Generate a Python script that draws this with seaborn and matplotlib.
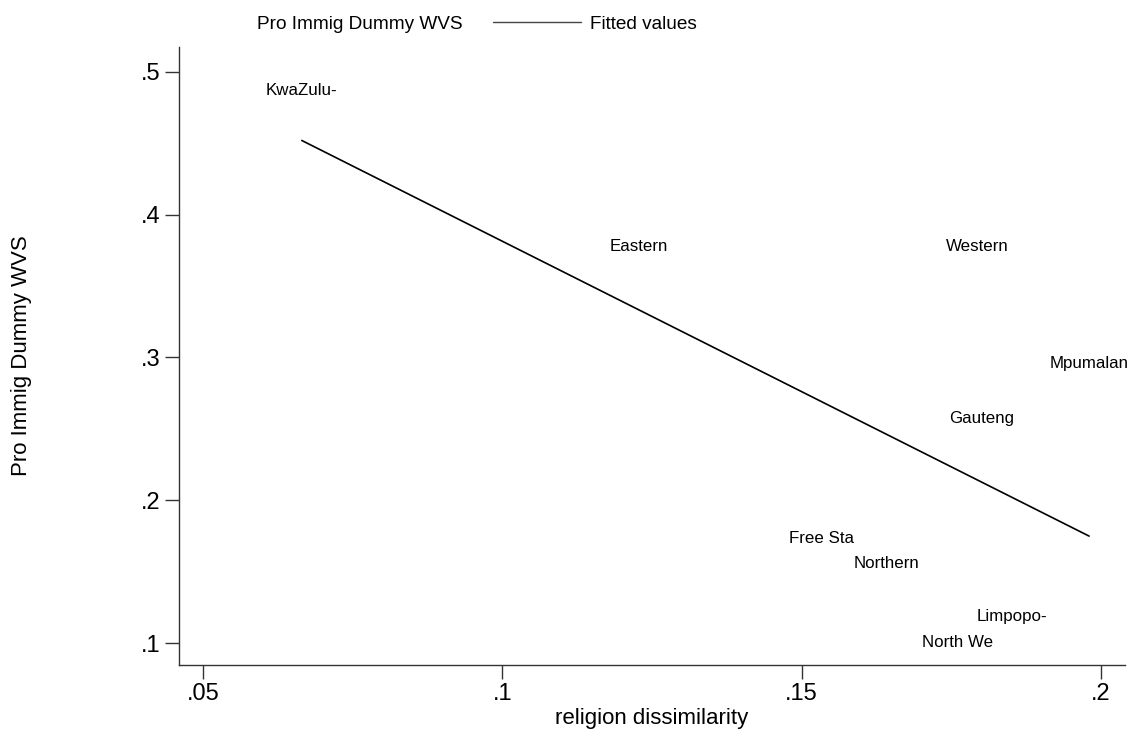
import numpy as np
import pandas as pd
import matplotlib
matplotlib.use("Agg")
import matplotlib.pyplot as plt
import matplotlib.transforms as mtransforms
from matplotlib.lines import Line2D
import seaborn as sns

# province labels (Stata truncates them to 8 chars)
regions = ["KwaZulu-", "Eastern", "Western", "Gauteng", "Mpumalan",
           "Free Sta", "Northern", "Limpopo-", "North We"]
# religion dissimilarity (x) and pro-immigration dummy share (y)
relig_dissim = [0.0665, 0.1228, 0.1793, 0.1800, 0.1980, 0.1533, 0.1641, 0.1851, 0.1760]
pro_immig = [0.485, 0.376, 0.376, 0.2555, 0.294, 0.171, 0.1535, 0.1166, 0.0986]

x_ticks = [0.05, 0.1, 0.15, 0.2]
x_ticklabels = [".05", ".1", ".15", ".2"]
y_ticks = [0.1, 0.2, 0.3, 0.4, 0.5]
y_ticklabels = [".1", ".2", ".3", ".4", ".5"]

df = pd.DataFrame({"region": regions, "x": relig_dissim, "y": pro_immig})

sns.set_style("ticks")
plt.rcParams["font.family"] = ["Liberation Sans", "DejaVu Sans"]
plt.rcParams["text.color"] = "black"
plt.rcParams["axes.labelcolor"] = "black"

fig = plt.figure(figsize=(11.36, 7.35), dpi=100)
ax = fig.add_axes([179 / 1136, 70 / 735, 946 / 1136, 618 / 735])

# fitted values line (OLS over the data range)
sns.regplot(data=df, x="x", y="y", scatter=False, ci=None, truncate=True,
            line_kws=dict(color="black", lw=1.2), ax=ax)

# marker labels only, no symbols
lift = mtransforms.offset_copy(ax.transData, fig=fig, x=0, y=2, units="points")
for _, r in df.iterrows():
    ax.text(r["x"], r["y"], r["region"], ha="center", va="center",
            fontsize=12.2, color="black", transform=lift)

ax.set_xlim(0.04599, 0.2040)
ax.set_ylim(0.0846, 0.5175)
ax.set_xticks(x_ticks)
ax.set_xticklabels(x_ticklabels)
ax.set_yticks(y_ticks)
ax.set_yticklabels(y_ticklabels)
ax.tick_params(axis="both", labelsize=17, length=10, width=1, color="#333333",
               pad=3, labelcolor="black")

sns.despine(ax=ax)
for s in ["left", "bottom"]:
    ax.spines[s].set_color("#333333")
    ax.spines[s].set_linewidth(1)

ax.set_xlabel("religion dissimilarity", fontsize=16)
ax.set_ylabel("Pro Immig Dummy WVS", fontsize=16)
ax.xaxis.set_label_coords(0.5, -0.07)
ax.yaxis.set_label_coords(-0.155, 0.5)

handles = [Line2D([], [], linestyle="none"),
           Line2D([], [], color="#444444", lw=1)]
fig.legend(handles, ["Pro Immig Dummy WVS", "Fitted values"], ncol=2,
           loc="center left", bbox_to_anchor=(160 / 1136, 1 - 24 / 735),
           frameon=False, fontsize=13.7, handlelength=4.6, handletextpad=0.5,
           columnspacing=1.6, borderpad=0, borderaxespad=0)

fig.savefig("out.png", dpi=100)
